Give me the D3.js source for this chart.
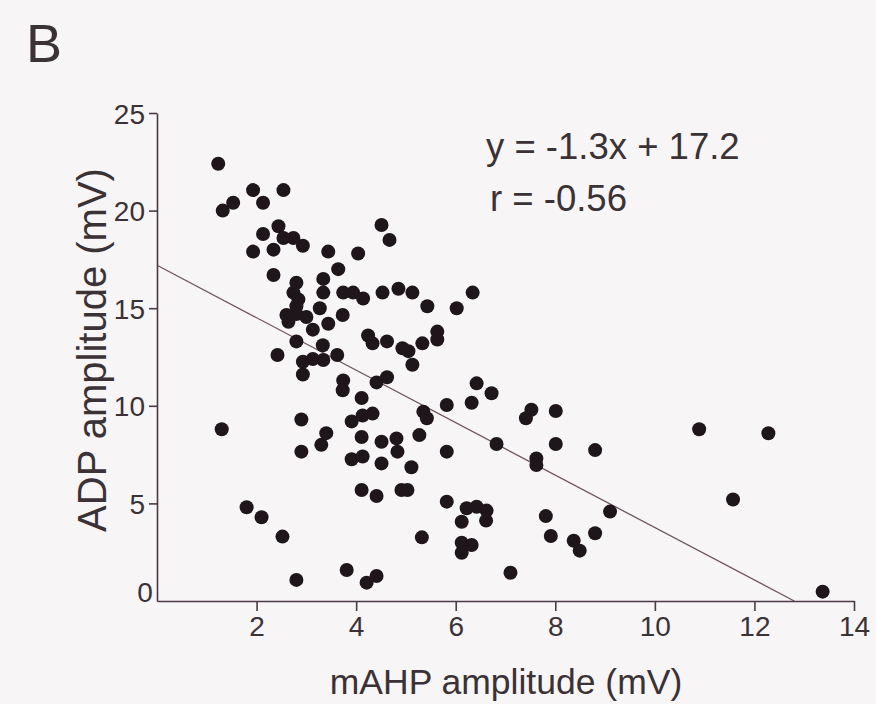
<!DOCTYPE html>
<html>
<head>
<meta charset="utf-8">
<script src="https://cdn.jsdelivr.net/npm/d3@7"></script>
<style>
  html, body { margin: 0; padding: 0; background: #f7f5f6; }
  svg { display: block; }
  text { font-family: "Liberation Sans", Arial, sans-serif; }
</style>
</head>
<body>
<svg id="chart" width="876" height="704"></svg>
<script>
// ---- data ----
const mAHP = [1.23,1.93,2.54,1.53,1.32,2.13,2.44,2.13,2.54,2.74,2.93,1.93,2.34,3.44,3.64,2.34,2.8,3.34,3.34,3.74,
  2.74,2.84,3.27,2.8,2.6,2.64,2.8,3.0,3.73,3.44,3.13,2.8,3.33,2.42,2.93,3.13,3.34,3.62,2.93,3.74,
  3.73,2.9,1.3,3.4,3.3,2.9,4.51,4.67,4.04,3.94,4.14,4.53,4.85,5.13,5.43,6.02,6.34,4.24,4.33,4.62,
  4.93,5.05,5.33,5.63,5.63,5.13,4.41,4.62,4.11,3.91,4.13,4.33,5.35,5.42,5.82,6.32,6.42,6.72,4.11,4.51,
  4.81,4.83,5.27,5.82,6.82,3.91,4.13,4.51,5.11,7.52,7.41,8.01,8.01,7.62,7.62,8.8,10.89,12.28,11.57,13.37,
  1.8,2.1,2.52,2.8,4.11,4.41,4.91,5.03,5.82,6.22,6.42,6.62,6.12,6.61,5.32,6.12,6.32,6.12,3.81,4.41,
  4.21,7.1,7.81,9.1,7.91,8.37,8.49,8.8];
const ADP = [22.4,21.05,21.05,20.4,20.0,20.4,19.2,18.8,18.6,18.6,18.2,17.9,18.0,17.9,17.0,16.7,16.3,16.5,15.8,15.8,
  15.8,15.45,15.0,15.1,14.65,14.3,14.7,14.55,14.65,14.2,13.9,13.3,13.1,12.6,12.26,12.4,12.35,12.6,11.6,11.3,
  10.8,9.3,8.8,8.6,8.0,7.65,19.26,18.5,17.8,15.8,15.5,15.8,16.0,15.8,15.1,15.0,15.8,13.6,13.2,13.3,
  12.95,12.8,13.2,13.8,13.4,12.1,11.2,11.46,10.4,9.2,9.5,9.6,9.7,9.36,10.04,10.16,11.15,10.64,8.4,8.16,
  8.33,7.65,8.5,7.65,8.04,7.26,7.4,7.05,6.85,9.8,9.36,9.73,8.04,7.3,6.97,7.73,8.8,8.59,5.2,0.48,
  4.8,4.29,3.3,1.08,5.69,5.38,5.69,5.69,5.09,4.75,4.83,4.63,4.06,4.12,3.26,2.99,2.87,2.47,1.59,1.28,
  0.94,1.45,4.35,4.58,3.33,3.09,2.58,3.47];
const fitX = [0, 12.8];
const fitY = [17.2, 0];
const xTicks = [2, 4, 6, 8, 10, 12, 14];
const yTicks = [5, 10, 15, 20, 25];
const xTitle = "mAHP amplitude (mV)";
const yTitle = "ADP amplitude (mV)";
const panelLabel = "B";
const eqText = "y = -1.3x + 17.2";
const rText = "r = -0.56";

// ---- drawing ----
const svg = d3.select("#chart");
const axisColor = "#4b3a45";
const textColor = "#3b3236";

const x = d3.scaleLinear().domain([0, 14]).range([157, 854]);
const y = d3.scaleLinear().domain([0, 25]).range([601, 113]);

// regression line
svg.append("line")
  .attr("x1", x(fitX[0])).attr("y1", y(fitY[0]))
  .attr("x2", x(fitX[1])).attr("y2", y(fitY[1]))
  .attr("stroke", "#6e5560").attr("stroke-width", 1.3);

// x axis
const gx = svg.append("g").attr("transform", `translate(0,${y(0)})`)
  .call(d3.axisBottom(x).tickValues(xTicks).tickSize(10).tickSizeOuter(0).tickPadding(5));
// y axis
const gy = svg.append("g").attr("transform", `translate(${x(0)},0)`)
  .call(d3.axisLeft(y).tickValues(yTicks).tickSize(8).tickSizeOuter(0).tickPadding(4));

[gx, gy].forEach(g => {
  g.select(".domain").attr("stroke", axisColor).attr("stroke-width", 1.6);
  g.selectAll(".tick line").attr("stroke", axisColor).attr("stroke-width", 1.6);
  g.selectAll(".tick text").attr("fill", textColor).style("font-size", "28px")
    .style("font-family", "'Liberation Sans', Arial, sans-serif");
});
gy.selectAll(".tick text").attr("dy", "0.36em");

// origin label
svg.append("text").attr("x", x(0) - 12).attr("y", y(0) + 1)
  .attr("text-anchor", "middle").attr("fill", textColor)
  .style("font-size", "28px").text("0");

// points
svg.append("g").selectAll("circle")
  .data(mAHP.map((v, i) => [v, ADP[i]]))
  .join("circle")
  .attr("cx", d => x(d[0])).attr("cy", d => y(d[1]))
  .attr("r", 7).attr("fill", "#1f161b");

// titles
svg.append("text").attr("x", 506).attr("y", 694)
  .attr("text-anchor", "middle").attr("fill", textColor)
  .style("font-size", "35.5px").text(xTitle);
svg.append("text")
  .attr("transform", `translate(106,350) rotate(-90)`)
  .attr("text-anchor", "middle").attr("fill", textColor)
  .style("font-size", "40px").text(yTitle);

svg.append("text").attr("x", 26).attr("y", 62)
  .attr("fill", textColor).style("font-size", "54px").text(panelLabel);

svg.append("text").attr("x", 486).attr("y", 159)
  .attr("fill", textColor).style("font-size", "36.5px").text(eqText);
svg.append("text").attr("x", 490).attr("y", 211)
  .attr("fill", textColor).style("font-size", "36.5px").text(rText);
</script>
</body>
</html>
